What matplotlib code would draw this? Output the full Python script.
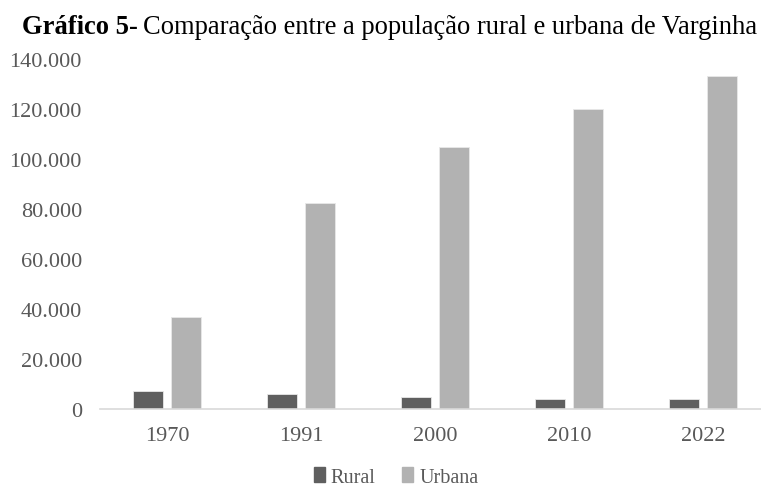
import numpy as np
import matplotlib
matplotlib.use("Agg")
import matplotlib.pyplot as plt
from matplotlib.patches import Patch

anos = ["1970", "1991", "2000", "2010", "2022"]
rural = [7300, 6000, 4800, 4000, 4000]
urbana = [36800, 82700, 104800, 120000, 133200]
yticks = [0, 20000, 40000, 60000, 80000, 100000, 120000, 140000]

plt.rcParams['font.family'] = ['Liberation Serif', 'DejaVu Serif']

W, H = 761, 489
fig = plt.figure(figsize=(W / 100, H / 100), dpi=100)
ax = fig.add_axes([100 / W, 78.7 / H, 670 / W, 350 / H])

x = np.arange(len(anos))
bw = 0.224
ax.bar(x - 0.142, rural, bw, color='#5f5f5f', edgecolor='#e8e8e8', linewidth=0.6, label='Rural')
ax.bar(x + 0.145, urbana, bw, color='#b2b2b2', edgecolor='#e8e8e8', linewidth=0.6, label='Urbana')

ax.set_xlim(-0.5, len(anos) - 0.5)
ax.set_ylim(0, 140000)
ax.set_yticks(yticks)
ax.set_yticklabels([f"{v:,}".replace(",", ".") for v in yticks])
ax.set_xticks(x)
ax.set_xticklabels(anos)
ax.tick_params(axis='both', length=0, labelsize=16, labelcolor='#595959')
ax.tick_params(axis='y', pad=13)
ax.tick_params(axis='x', pad=12)
for s in ['top', 'right', 'left']:
    ax.spines[s].set_visible(False)
ax.spines['bottom'].set_color('#d9d9d9')
ax.spines['bottom'].set_linewidth(1.2)

handles = [Patch(color='#5f5f5f', label='Rural'), Patch(color='#b2b2b2', label='Urbana')]
leg = fig.legend(handles=handles, loc='center', bbox_to_anchor=(396 / W, 1 - 478 / H),
                 ncol=2, frameon=False, fontsize=14.5, handlelength=0.55, handleheight=0.7,
                 handletextpad=0.3, columnspacing=1.3, borderpad=0)
for t in leg.get_texts():
    t.set_color('#595959')

# title: bold part + regular part
ty = 1 - 34 / H
t1 = fig.text(22 / W, ty, "Gráfico 5-", fontsize=19.1, fontweight='bold', va='baseline', ha='left')
fig.canvas.draw()
bb = t1.get_window_extent(fig.canvas.get_renderer())
fig.text((bb.x1 + 5) / W, ty, "Comparação entre a população rural e urbana de Varginha",
         fontsize=19.1, va='baseline', ha='left')

fig.savefig("out.png", dpi=100)
